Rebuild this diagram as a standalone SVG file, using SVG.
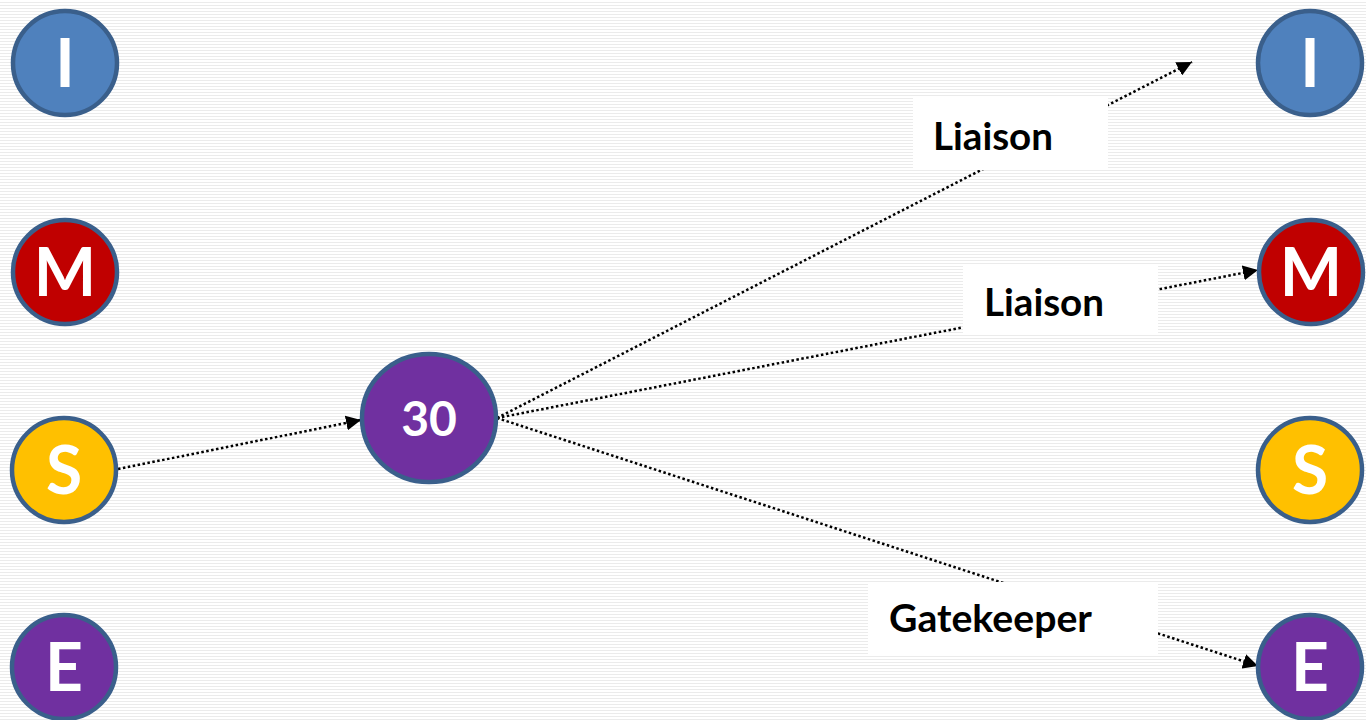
<svg xmlns="http://www.w3.org/2000/svg" width="1366" height="720" viewBox="0 0 1366 720">
  <defs>
    <pattern id="lines" width="6" height="3" patternUnits="userSpaceOnUse">
      <rect width="6" height="3" fill="#ffffff"/>
      <rect y="2" width="6" height="1" fill="#ebebeb"/>
    </pattern>
    <marker id="arrow" viewBox="0 0 10 10" refX="10" refY="5" markerWidth="6" markerHeight="6" markerUnits="strokeWidth" orient="auto">
      <path d="M0,0 L10,5 L0,10 Z" fill="#000"/>
    </marker>
  </defs>
  <style>
    .node { stroke: #3a5f8b; stroke-width: 4.5; }
    .blue { fill: #4f81bd; }
    .red { fill: #c00000; }
    .gold { fill: #ffc000; }
    .purple { fill: #7030a0; }
    .letter { font-family: Lato, "Open Sans", "Liberation Sans", sans-serif; font-weight: bold; font-size: 66px; fill: #ffffff; text-anchor: middle; }
    .num { font-family: Lato, "Open Sans", "Liberation Sans", sans-serif; font-weight: bold; font-size: 48px; fill: #ffffff; text-anchor: middle; }
    .edge { stroke: #000; stroke-width: 2.5; stroke-dasharray: 2.5 2.5; fill: none; marker-end: url(#arrow); }
    .labelbox { fill: #ffffff; }
    .label { font-family: Lato, "Open Sans", "Liberation Sans", sans-serif; font-weight: bold; font-size: 38px; fill: #000; }
  </style>

  <rect width="1366" height="720" fill="url(#lines)"/>

  <!-- connectors -->
  <g id="connectors">
    <line class="edge" x1="118" y1="469" x2="361" y2="420"/>
    <line class="edge" x1="497" y1="418" x2="1192" y2="62"/>
    <line class="edge" x1="497" y1="418" x2="1258" y2="270"/>
    <line class="edge" x1="497" y1="418" x2="1258" y2="666"/>
  </g>

  <!-- left column -->
  <g id="left-I"><circle class="node blue" cx="65" cy="63" r="52"/><text class="letter" x="65" y="87">I</text></g>
  <g id="left-M"><circle class="node red" cx="65" cy="272" r="52"/><text class="letter" x="65" y="296">M</text></g>
  <g id="left-S"><circle class="node gold" cx="64" cy="470" r="52"/><text class="letter" x="64" y="494">S</text></g>
  <g id="left-E"><circle class="node purple" cx="64" cy="667" r="52"/><text class="letter" x="64" y="691">E</text></g>

  <!-- center -->
  <g id="center-30"><ellipse class="node purple" cx="429" cy="418" rx="67" ry="64"/><text class="num" x="429" y="436">30</text></g>

  <!-- right column -->
  <g id="right-I"><circle class="node blue" cx="1310" cy="63" r="52"/><text class="letter" x="1310" y="87">I</text></g>
  <g id="right-M"><circle class="node red" cx="1311" cy="272" r="52"/><text class="letter" x="1311" y="296">M</text></g>
  <g id="right-S"><circle class="node gold" cx="1310" cy="470" r="52"/><text class="letter" x="1310" y="494">S</text></g>
  <g id="right-E"><circle class="node purple" cx="1310" cy="667" r="52"/><text class="letter" x="1310" y="691">E</text></g>

  <!-- edge labels -->
  <g id="label-liaison-1"><rect class="labelbox" x="913" y="98" width="195" height="72"/><text class="label" x="933" y="150" textLength="120" lengthAdjust="spacingAndGlyphs">Liaison</text></g>
  <g id="label-liaison-2"><rect class="labelbox" x="963" y="265" width="195" height="70"/><text class="label" x="984" y="316" textLength="120" lengthAdjust="spacingAndGlyphs">Liaison</text></g>
  <g id="label-gatekeeper"><rect class="labelbox" x="868" y="582" width="290" height="73"/><text class="label" x="889" y="632" textLength="203" lengthAdjust="spacingAndGlyphs">Gatekeeper</text></g>
</svg>
